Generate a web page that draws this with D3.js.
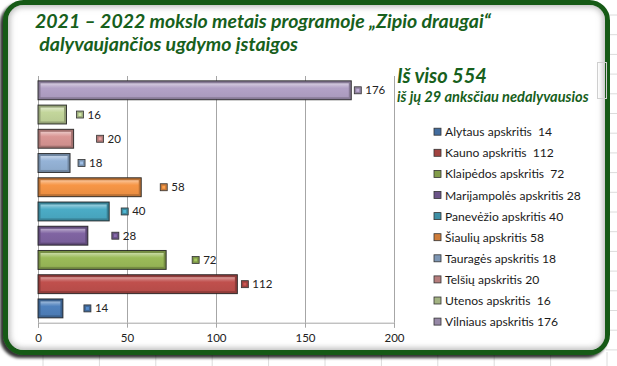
<!DOCTYPE html>
<html><head><meta charset="utf-8">
<script src="https://cdnjs.cloudflare.com/ajax/libs/d3/7.8.5/d3.min.js"></script>
<style>
html,body{margin:0;padding:0;background:#fff;}
svg{display:block;}
text{font-family:Lato,"Open Sans",sans-serif;}
</style></head>
<body>
<svg id="chart" width="617" height="366"></svg>
<script>
// ---- data ----
const categories = ["Alytaus apskritis","Kauno apskritis","Klaipėdos apskritis","Marijampolės apskritis","Panevėžio apskritis","Šiaulių apskritis","Tauragės apskritis","Telšių apskritis","Utenos apskritis","Vilniaus apskritis"];
const values = [14,112,72,28,40,58,18,20,16,176];
const legendLabels = ["Alytaus apskritis  14","Kauno apskritis  112","Klaipėdos apskritis  72","Marijampolės apskritis 28","Panevėžio apskritis 40","Šiaulių apskritis 58","Tauragės apskritis 18","Telšių apskritis 20","Utenos apskritis  16","Vilniaus apskritis 176"];
const xTicks = [0,50,100,150,200];
const titleLines = ["2021 – 2022 mokslo metais programoje „Zipio draugai“"," dalyvaujančios ugdymo įstaigos"];
const totalText = "Iš viso 554";
const subText = "iš jų 29 anksčiau nedalyvausios";

// ---- styles / layout ----
const colors = ["#4f81bd","#c0504d","#9bbb59","#8064a2","#4bacc6","#f79646","#95b3d7","#d99694","#c3d69b","#b3a2c7"];
const labelNudge = [21,4,26,24,12,19,8,23,10,3]; // px gap between bar end and data label
const green = "#17601c";

const svg = d3.select("#chart");
const defs = svg.append("defs");

// background spreadsheet lines
const bg = svg.append("g");
for (let yy = 15; yy < 366; yy += 19.7) bg.append("line").attr("x1",606).attr("x2",617).attr("y1",yy).attr("y2",yy).attr("stroke","#dcdcdc");
for (let xx = 43; xx < 617; xx += 56.4) bg.append("line").attr("x1",xx).attr("x2",xx).attr("y1",352).attr("y2",366).attr("stroke","#dcdcdc");

// frame
const sh = defs.append("filter").attr("id","shadow").attr("x","-10%").attr("y","-10%").attr("width","120%").attr("height","120%");
sh.append("feDropShadow").attr("dx",-3).attr("dy",3).attr("stdDeviation",1.8).attr("flood-color","#000").attr("flood-opacity",0.8);
svg.append("rect").attr("x",5.5).attr("y",2.5).attr("width",602).attr("height",350).attr("rx",18)
  .attr("fill","#fff").attr("stroke","#175a17").attr("stroke-width",5).attr("filter","url(#shadow)");
// inner bevel
defs.append("filter").attr("id","blur").append("feGaussianBlur").attr("stdDeviation",3);
defs.append("clipPath").attr("id","inner").append("rect").attr("x",8).attr("y",5).attr("width",597).attr("height",345).attr("rx",15);
svg.append("g").attr("clip-path","url(#inner)").append("rect").attr("x",6).attr("y",3).attr("width",601).attr("height",349).attr("rx",16)
  .attr("fill","none").attr("stroke","#b0b0b0").attr("stroke-width",7).attr("filter","url(#blur)");

// faint selection box at right
svg.append("rect").attr("x",597.5).attr("y",62.5).attr("width",9).attr("height",36).attr("fill","none").attr("stroke","#cfcfcf");

// title
titleLines.forEach((t,i) => {
  svg.append("text").attr("x",35).attr("y",i===0?28:51).attr("fill",green)
    .attr("font-size",19.5).attr("font-weight","bold").attr("font-style","italic")
    .style("white-space","pre").text(t);
});
svg.append("text").attr("x",397).attr("y",83).attr("fill",green).attr("font-size",20)
  .attr("font-weight","bold").attr("font-style","italic").text(totalText);
svg.append("text").attr("x",397).attr("y",102).attr("fill",green).attr("font-size",14.6)
  .attr("font-weight","bold").attr("font-style","italic").text(subText);

// scales
const x = d3.scaleLinear().domain([0,200]).range([38,394]);
const plotTop = 76, plotBottom = 322.7;
const y = d3.scaleBand().domain(categories.slice().reverse()).range([plotTop,plotBottom]).paddingInner(0.22).paddingOuter(0.2);

// gridlines
svg.append("g").selectAll("line").data(xTicks.slice(1)).join("line")
  .attr("x1",d=>x(d)+0.5).attr("x2",d=>x(d)+0.5).attr("y1",plotTop).attr("y2",plotBottom).attr("stroke","#a6a6a6");
// left axis line
svg.append("line").attr("x1",x(0)+0.5).attr("x2",x(0)+0.5).attr("y1",plotTop).attr("y2",plotBottom).attr("stroke","#a6a6a6");

// x axis
const ax = svg.append("g").attr("transform",`translate(0,${plotBottom})`)
  .call(d3.axisBottom(x).tickValues(xTicks).tickSize(5).tickPadding(6));
ax.select(".domain").attr("stroke","#a6a6a6");
ax.selectAll(".tick line").attr("stroke","#a6a6a6");
ax.selectAll(".tick text").attr("font-size",11.5).attr("fill","#222").attr("font-family","Lato,'Open Sans',sans-serif");

// gradients for bevel bars
colors.forEach((c,i) => {
  const g = defs.append("linearGradient").attr("id","g"+i).attr("x1",0).attr("x2",0).attr("y1",0).attr("y2",1);
  const base = d3.color(c);
  g.append("stop").attr("offset","0%").attr("stop-color",d3.interpolateRgb(c,"#fff")(0.45));
  g.append("stop").attr("offset","22%").attr("stop-color",d3.interpolateRgb(c,"#fff")(0.15));
  g.append("stop").attr("offset","35%").attr("stop-color",c);
  g.append("stop").attr("offset","100%").attr("stop-color",base.darker(0.15));
});

const bars = svg.append("g").selectAll("g").data(categories).join("g");
bars.append("rect")
  .attr("x",x(0)).attr("y",d=>y(d)).attr("height",y.bandwidth())
  .attr("width",(d,i)=>x(values[i])-x(0))
  .attr("fill",(d,i)=>d3.color(colors[i]).darker(0.8))
  .attr("stroke","#1a1a1a").attr("stroke-width",1).attr("stroke-opacity",0.85);
bars.append("rect")
  .attr("x",x(0)+2.5).attr("y",d=>y(d)+2.5).attr("height",y.bandwidth()-5)
  .attr("width",(d,i)=>Math.max(0,x(values[i])-x(0)-5))
  .attr("fill",(d,i)=>`url(#g${i})`);

// data labels
const lab = svg.append("g").selectAll("g").data(categories).join("g")
  .attr("transform",(d,i)=>`translate(${x(values[i])+labelNudge[i]},${y(d)+y.bandwidth()/2})`);
lab.append("rect").attr("x",0).attr("y",-3.5).attr("width",7).attr("height",7)
  .attr("fill",(d,i)=>d3.color(colors[i]).darker(0.6)).attr("stroke","#333").attr("stroke-width",0.8);
lab.append("rect").attr("x",2).attr("y",-1.5).attr("width",3).attr("height",3)
  .attr("fill",(d,i)=>d3.color(colors[i]).brighter(0.2));
lab.append("text").attr("x",11).attr("y",4).attr("font-size",11.5).attr("fill","#222").text((d,i)=>values[i]);

// legend
const lg = svg.append("g").selectAll("g").data(legendLabels).join("g")
  .attr("transform",(d,i)=>`translate(434,${131.7 + i*21.1})`);
lg.append("rect").attr("x",0).attr("y",-3.5).attr("width",7).attr("height",7)
  .attr("fill",(d,i)=>d3.color(colors[i]).darker(0.5)).attr("stroke","#333").attr("stroke-width",0.8);
lg.append("text").attr("x",11).attr("y",4.5).attr("font-size",12.1).attr("fill","#1a1a1a")
  .style("white-space","pre").text(d=>d);
</script>
</body></html>
